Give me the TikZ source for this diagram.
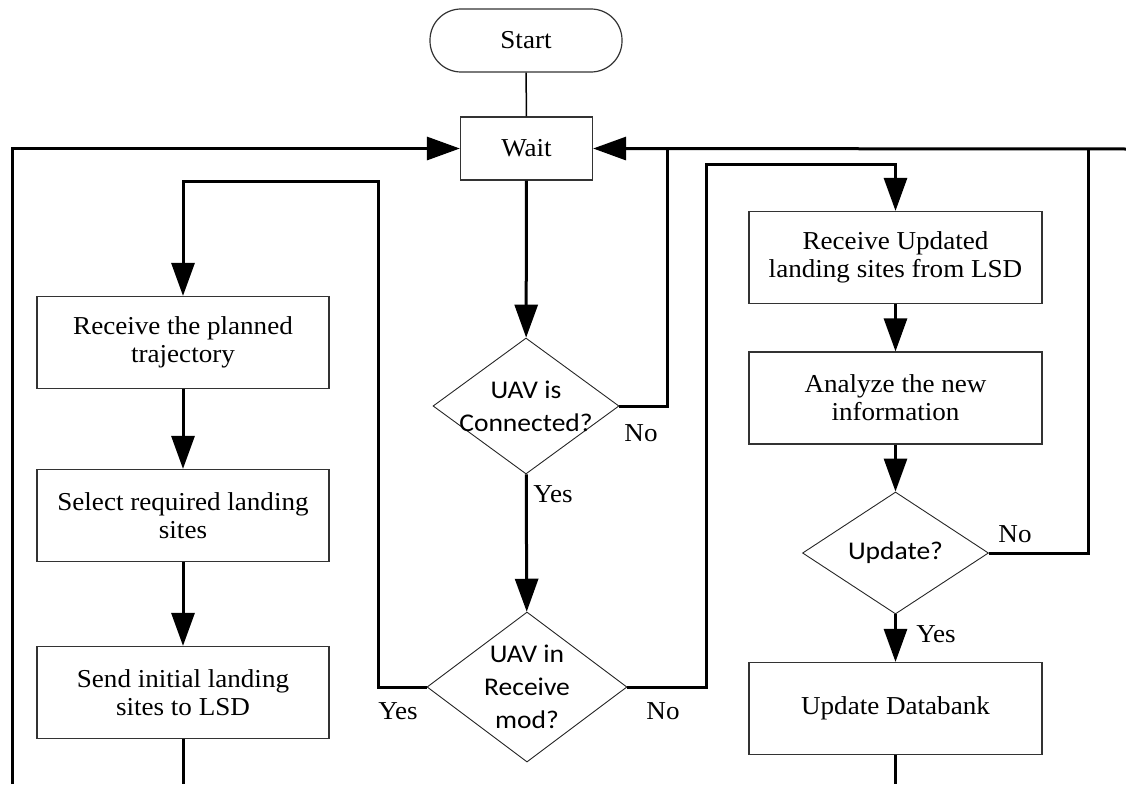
\documentclass[tikz,border=0pt]{standalone}
\usepackage{fontspec}
\setmainfont{Liberation Serif}[FakeStretch=1.05]
\newfontfamily\decfont{Carlito}[FakeStretch=1.08]
\usetikzlibrary{shapes.geometric,arrows.meta}
\begin{document}
\begin{tikzpicture}[x=1pt,y=-1pt,
  every node/.style={inner sep=0pt},
  boxtext/.style={font=\fontsize{25.8}{28}\selectfont, align=center},
  process/.style={draw=black!80, line width=1.2pt, rectangle, boxtext,
    minimum width=293, minimum height=92},
  terminal/.style={draw=black!80, line width=1.2pt, rectangle, rounded corners=31pt, boxtext,
    minimum width=192, minimum height=63},
  waitbox/.style={draw=black!80, line width=1.2pt, rectangle, boxtext,
    minimum width=132, minimum height=63},
  decision/.style={draw=black!85, line width=0.9pt, diamond},
  dlabel/.style={font=\decfont\fontsize{25.5}{33}\selectfont, align=center},
  answer/.style={font=\fontsize{25.8}{28}\selectfont},
  flow/.style={line width=3pt, -{Triangle[length=33pt,width=23pt]}},
  wire/.style={line width=3pt},
  thinwire/.style={line width=1.5pt}
]
\useasboundingbox (0,0) rectangle (1126,784);

% main column
\node[terminal] (start) at (526,40.5) {Start};
\node[waitbox] (wait) at (526.5,148.5) {Wait};
\node[decision, minimum width=186, minimum height=136,
  label={[dlabel]center:{UAV is\\Connected?}}] (d1) at (526,406) {};
\node[decision, minimum width=200, minimum height=150,
  label={[dlabel]center:{UAV in\\Receive\\mod?}}] (d2) at (527,687) {};

% left column
\node[process, minimum width=292] (recv) at (183,342.5) {Receive the planned\\trajectory};
\node[process, minimum width=292] (sel) at (183,515.5) {Select required landing\\sites};
\node[process, minimum width=292] (send) at (183,692.5) {Send initial landing\\sites to LSD};

% right column
\node[process] (upd) at (895.5,257.5) {Receive Updated\\landing sites from LSD};
\node[process] (ana) at (895.5,398) {Analyze the new\\information};
\node[decision, minimum width=186, minimum height=122,
  label={[dlabel]center:{Update?}}] (d3) at (895.5,553) {};
\node[process] (db) at (895.5,708.5) {Update Databank};

% turning points and open ends
\coordinate (leftEnd) at (12,784);
\coordinate (rightEnd) at (1126,149);
\coordinate (sendEnd) at (183,784);
\coordinate (dbEnd) at (895.5,784);
\coordinate (noOne) at (667,149);
\coordinate (noThree) at (1088,149);
\coordinate (yesTurn) at (378,181);
\coordinate (noTurn) at (706,164);

% connectors
\draw[thinwire] (start) -- (wait);
\draw[flow] (wait) -- (d1);
\draw[flow] (d1) -- (d2);
\draw[flow] (leftEnd) |- (wait.west);
\draw[flow] (rightEnd) -- (wait.east);
\draw[wire] (d1.east) -| (noOne);
\draw[wire] (d3.east) -| (noThree);
\draw[flow] (d2.west) -| (yesTurn) -| (recv.north);
\draw[flow] (d2.east) -| (noTurn) -| (upd.north);
\draw[flow] (recv) -- (sel);
\draw[flow] (sel) -- (send);
\draw[wire] (send) -- (sendEnd);
\draw[flow] (upd) -- (ana);
\draw[flow] (ana) -- (d3);
\draw[flow] (d3) -- (db);
\draw[wire] (db) -- (dbEnd);

% branch labels
\node[answer] (l1) at (641,433) {No};
\node[answer] (l2) at (553,494) {Yes};
\node[answer] (l3) at (398,711) {Yes};
\node[answer] (l4) at (663,711) {No};
\node[answer] (l5) at (1015,534) {No};
\node[answer] (l6) at (936,634) {Yes};
\end{tikzpicture}
\end{document}
